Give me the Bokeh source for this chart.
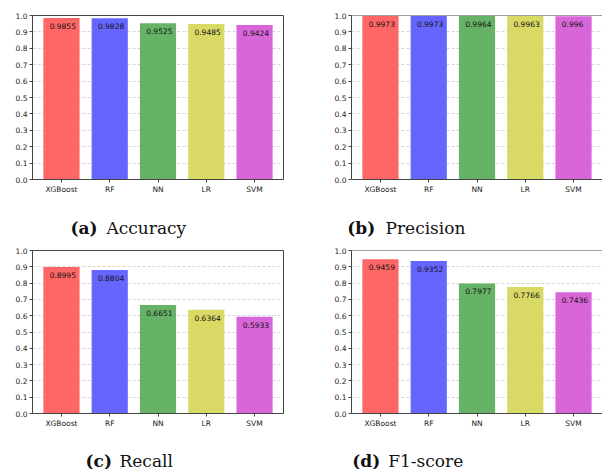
from bokeh.plotting import figure
from bokeh.models import Range1d, FixedTicker, NumeralTickFormatter, Span, ColumnDataSource
from bokeh.layouts import row, column
from bokeh.embed import file_html
from bokeh.resources import INLINE
from bokeh.core.properties import value

models = ["XGBoost", "RF", "NN", "LR", "SVM"]
accuracy = [0.9855, 0.9828, 0.9525, 0.9485, 0.9424]
precision = [0.9973, 0.9973, 0.9964, 0.9963, 0.996]
recall = [0.8995, 0.8804, 0.6651, 0.6364, 0.5933]
f1_score = [0.9459, 0.9352, 0.7977, 0.7766, 0.7436]
y_ticks = [0.0, 0.1, 0.2, 0.3, 0.4, 0.5, 0.6, 0.7, 0.8, 0.9, 1.0]
tags = ["(a)", "(b)", "(c)", "(d)"]
names = ["Accuracy", "Precision", "Recall", "F1-score"]
bar_colors = ["#ff6666", "#6666ff", "#66b266", "#d9d966", "#d966d9"]

AX = "#444444"
TICK_FONT = "DejaVu Sans"
CAP_FONT = "DejaVu Serif"

LEFT_W, RIGHT_W = 320, 282


def panel(vals, left, top):
    if left:
        w, bl, br = LEFT_W, 32, 37
    else:
        w, bl, br = RIGHT_W, 31, 0
    if top:
        h, bt, bb = 199, 15, 20
    else:
        h, bt, bb = 189, 6, 20
    p = figure(width=w, height=h, min_border_left=bl, min_border_right=br,
               min_border_top=bt, min_border_bottom=bb,
               x_range=Range1d(-0.6, 4.6), y_range=Range1d(0, 1.0),
               output_backend="svg", toolbar_location=None,
               background_fill_color="white", border_fill_color="white")
    p.outline_line_color = AX if left else None
    p.outline_line_width = 1
    xs = list(range(len(models)))
    src = ColumnDataSource(dict(x=xs, top=vals, color=bar_colors,
                                label=[str(v) for v in vals]))
    p.vbar(x="x", top="top", width=0.75, bottom=0, color="color", line_color=None, source=src)
    p.text(x="x", y="top", text="label", source=src, x_offset=-11.8, y_offset=7.8,
           text_font=value(TICK_FONT), text_font_size="7.5px", text_color="#111111",
           text_baseline="alphabetic", text_align="left")
    if not left:
        p.add_layout(Span(location=1.0, dimension="width", line_color=AX, line_width=1))

    p.xgrid.visible = False
    p.ygrid.ticker = FixedTicker(ticks=y_ticks)
    p.ygrid.grid_line_color = "#cccccc"
    p.ygrid.grid_line_dash = "3 2"
    p.ygrid.grid_line_width = 0.8

    p.xaxis.ticker = FixedTicker(ticks=xs)
    p.xaxis.major_label_overrides = {i: m for i, m in enumerate(models)}
    p.yaxis.ticker = FixedTicker(ticks=y_ticks)
    p.yaxis.formatter = NumeralTickFormatter(format="0.0")
    for ax in (p.xaxis, p.yaxis):
        ax.axis_line_color = AX
        ax.axis_line_width = 1
        ax.major_tick_line_color = AX
        ax.major_tick_in = 0
        ax.major_tick_out = 3
        ax.minor_tick_line_color = None
        ax.major_label_standoff = 2
        ax.major_label_text_font = TICK_FONT
        ax.major_label_text_font_size = "7.5px"
        ax.major_label_text_color = "#222222"
    return p


def caption(tag, name, w, h, tag_x, name_x, cy):
    c = figure(width=w, height=h, min_border=0, x_range=Range1d(0, w), y_range=Range1d(0, h),
               output_backend="svg", toolbar_location=None,
               background_fill_color="white", border_fill_color="white")
    c.axis.visible = False
    c.grid.visible = False
    c.outline_line_color = None
    c.text(x=[tag_x], y=[cy], text=[tag], text_font=value(CAP_FONT), text_font_style="bold",
           text_font_size="17px", text_baseline="middle", text_align="left", text_color="#111111")
    c.text(x=[name_x], y=[cy], text=[name], text_font=value(CAP_FONT),
           text_font_size="17px", text_baseline="middle", text_align="left", text_color="#111111")
    return c


pa = panel(accuracy, True, True)
pb = panel(precision, False, True)
pc = panel(recall, True, False)
pd = panel(f1_score, False, False)

ca = caption(tags[0], names[0], LEFT_W, 45, 70, 106, 17)
cb = caption(tags[1], names[1], RIGHT_W, 45, 26.7, 65, 17)
cc = caption(tags[2], names[2], LEFT_W, 36, 85, 119, 9)
cd = caption(tags[3], names[3], RIGHT_W, 36, 31.7, 67.7, 9)

layout = column(row(pa, pb), row(ca, cb), row(pc, pd), row(cc, cd))
open("out.html", "w").write(file_html(layout, INLINE))
